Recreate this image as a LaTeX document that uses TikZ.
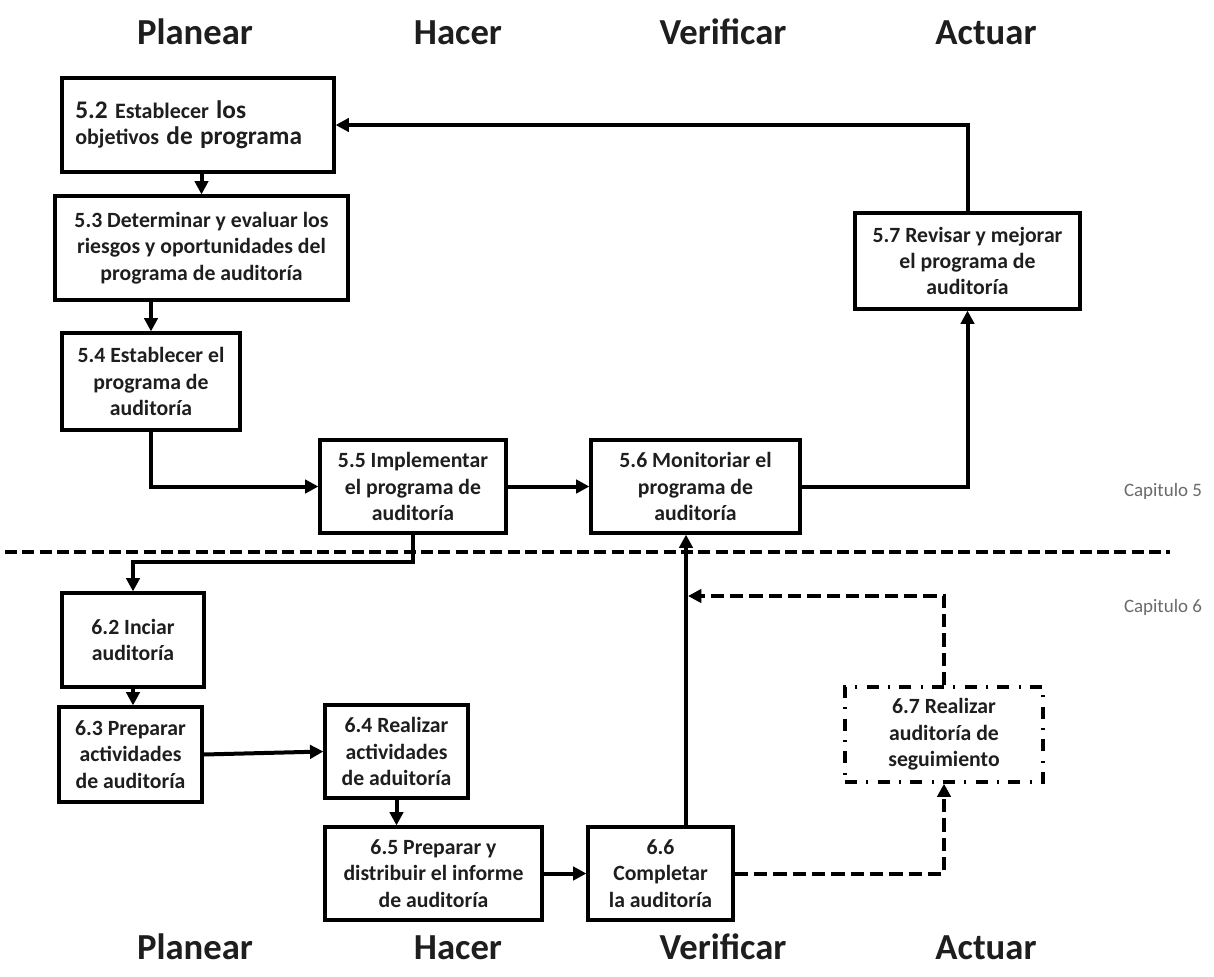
\documentclass[tikz,border=0pt]{standalone}
\usepackage{fontspec}
\setmainfont{Carlito}
\usetikzlibrary{arrows.meta,calc}
\definecolor{txt}{HTML}{1E1E1E}
\definecolor{capg}{HTML}{6A6A6A}
\tikzset{
  box/.style={draw=black, line width=2.4pt, align=center, inner sep=0pt, text=txt,
    font=\bfseries\fontsize{16.3}{19.8}\selectfont},
  conn/.style={line width=3pt, -{Triangle[length=10pt,width=10pt]}},
  dconn/.style={conn, dash pattern=on 10pt off 4.5pt},
  phase/.style={anchor=base, text=txt, font=\bfseries\fontsize{27.5}{30}\selectfont},
  chaplabel/.style={anchor=center, text=capg, font=\fontsize{14.2}{16}\selectfont},
}
\begin{document}
\begin{tikzpicture}[x=0.75pt,y=-0.75pt]
\fill[white] (0,0) rectangle (1214,976);
\useasboundingbox (0,0) rectangle (1214,976);

% phase titles
\node[phase] (tp) at (195,44) {Planear};
\node[phase] (th) at (458,44) {Hacer};
\node[phase] (tv) at (723,44) {Verificar};
\node[phase] (ta) at (986,44) {Actuar};
\node[phase] (bp) at (195,959) {Planear};
\node[phase] (bh) at (458,959) {Hacer};
\node[phase] (bv) at (723,959) {Verificar};
\node[phase] (ba) at (986,959) {Actuar};

\node[chaplabel] (c5) at (1163,491) {Capitulo 5};
\node[chaplabel] (c6) at (1163,607) {Capitulo 6};

% separator
\coordinate (sepL) at (5,552);
\coordinate (sepR) at (1170,552);
\draw[line width=2.6pt, dash pattern=on 9pt off 4pt] (sepL) -- (sepR);

% chapter 5 boxes
\node[box, minimum width=204pt, minimum height=70.5pt, text width=184pt, align=left] (b52) at (198,125)
 {{\fontsize{19}{22}\selectfont 5.2} {\fontsize{16.5}{22}\selectfont Establecer} {\fontsize{19}{22}\selectfont los}\\[0pt]
  {\fontsize{16.5}{22}\selectfont objetivos} {\fontsize{19}{22}\selectfont de programa}};
\node[box, minimum width=219.75pt, minimum height=78pt] (b53) at (201.5,248)
 {5.3 Determinar y evaluar los\\riesgos y oportunidades del\\programa de auditoría};
\node[box, minimum width=133.5pt, minimum height=72.75pt] (b54) at (151,381.5)
 {5.4 Establecer el\\programa de\\auditoría};
\node[box, minimum width=139.5pt, minimum height=69.75pt] (b55) at (413,486.5)
 {5.5 Implementar\\el programa de\\auditoría};
\node[box, minimum width=156.75pt, minimum height=69.75pt] (b56) at (695.5,486.5)
 {5.6 Monitoriar el\\programa de\\auditoría};
\node[box, minimum width=168.75pt, minimum height=72pt] (b57) at (967.5,261)
 {5.7 Revisar y mejorar\\el programa de\\auditoría};

% chapter 6 boxes
\node[box, minimum width=106.5pt, minimum height=70.5pt] (b62) at (133,640)
 {6.2 Inciar\\auditoría};
\node[box, minimum width=107.25pt, minimum height=71.25pt] (b63) at (130.5,754.5)
 {6.3 Preparar\\actividades\\de auditoría};
\node[box, minimum width=107.25pt, minimum height=69.75pt] (b64) at (396.5,751.5)
 {6.4 Realizar\\actividades\\de aduitoría};
\node[box, minimum width=162.75pt, minimum height=69.75pt] (b65) at (433.5,873.5)
 {6.5 Preparar y\\distribuir el informe\\de auditoría};
\node[box, minimum width=108.75pt, minimum height=69.75pt] (b66) at (660.5,873.5)
 {6.6\\Completar\\la auditoría};
\node[box, minimum width=148.5pt, minimum height=71.25pt,
      dash pattern=on 9pt off 7pt on 1.5pt off 7pt] (b67) at (944,734.5)
 {6.7 Realizar\\auditoría de\\seguimiento};

% connectors chapter 5
\draw[conn] (b52.south -| b53.north) -- (b53.north);
\draw[conn] (b53.south -| b54.north) -- (b54.north);
\draw[conn] (b54.south) |- (b55.west);
\draw[conn] (b55.east) -- (b56.west);
\draw[conn] (b56.east) -| (b57.south);
\draw[conn] (b57.north) |- (b52.east);

% link chapter 5 -> 6
\coordinate (k1) at (413,562);
\draw[conn] (b55.south) -- (k1) -| (b62.north);

% connectors chapter 6
\draw[conn] (b62.south) -- (b62.south |- b63.north);
\draw[conn] (b63.east) -- (b64.west);
\draw[conn] (b64.south) -- (b64.south |- b65.north);
\draw[conn] (b65.east) -- (b66.west);
\coordinate (vx) at (686,0);
\draw[conn] (b66.north -| vx) -- (b56.south -| vx);
\draw[dconn] (b66.east) -| (b67.south);
\coordinate (j) at (688,596);
\draw[dconn] (b67.north) |- (j);
\end{tikzpicture}
\end{document}
